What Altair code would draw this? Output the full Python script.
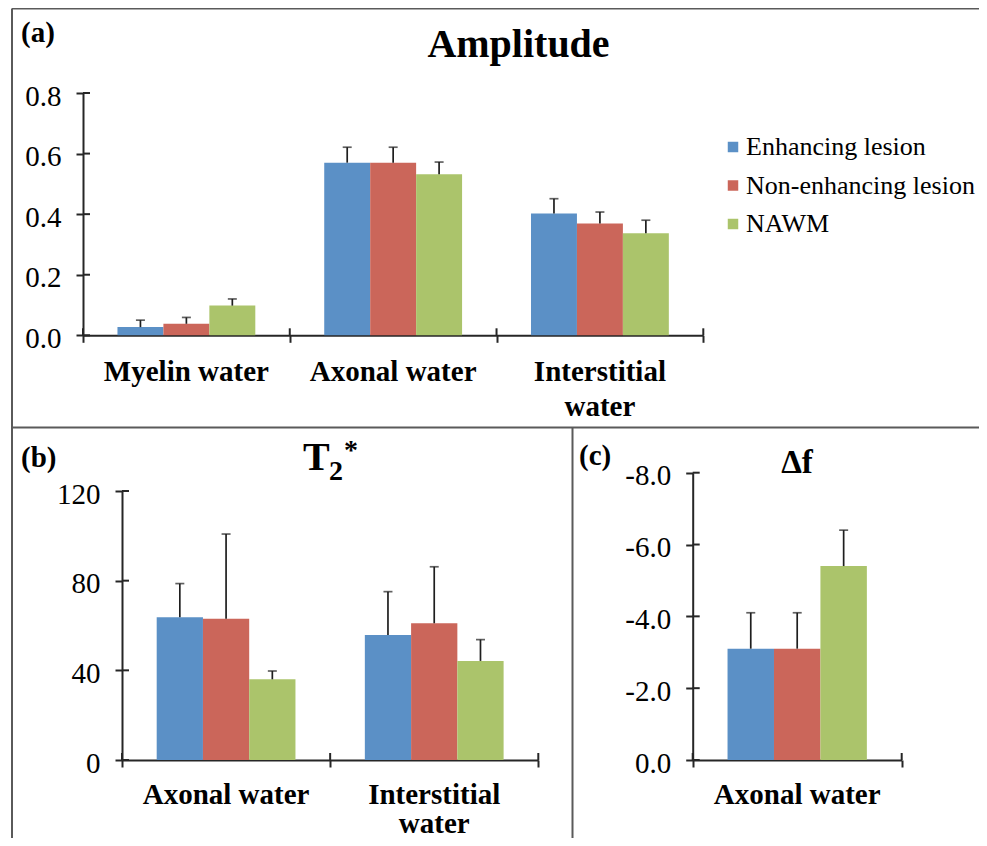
import altair as alt
import pandas as pd

# ---------------- data ----------------
series = ["Enhancing lesion", "Non-enhancing lesion", "NAWM"]
colors = ["#5b90c6", "#cb665a", "#abc46b"]

amp_cats = ["Myelin water", "Axonal water", "Interstitial\nwater"]
amp_enh = [0.027, 0.570, 0.402]
amp_non = [0.038, 0.570, 0.369]
amp_nawm = [0.098, 0.532, 0.337]
amp_enh_err = [0.023, 0.051, 0.049]
amp_non_err = [0.021, 0.051, 0.038]
amp_nawm_err = [0.022, 0.040, 0.043]
amp_ticks = [0.0, 0.2, 0.4, 0.6, 0.8]

t2_cats = ["Axonal water", "Interstitial\nwater"]
t2_enh = [63.7, 55.8]
t2_non = [63.0, 61.0]
t2_nawm = [36.0, 44.2]
t2_enh_err = [15.0, 19.3]
t2_non_err = [37.8, 25.2]
t2_nawm_err = [3.7, 9.5]
t2_ticks = [0, 40, 80, 120]

df_cats = ["Axonal water"]
df_enh = [-3.1]
df_non = [-3.1]
df_nawm = [-5.4]
df_enh_err = [1.0]
df_non_err = [1.0]
df_nawm_err = [1.0]
df_ticks = [0.0, -2.0, -4.0, -6.0, -8.0]

# ---------------- styling ----------------
SERIF = "Liberation Serif, Times New Roman, serif"
INK = "#262626"
BORDER = "#5a5a5a"
W, H = 819, 667


def build(cats, means, errs):
    rows = []
    for j, (s, m, e) in enumerate(zip(series, means, errs)):
        for i, c in enumerate(cats):
            x0 = i + 1 / 6 + j * 2 / 9
            v = m[i]
            tip = v + e[i] if v >= 0 else v - e[i]
            rows.append(dict(series=s, cat=c, x0=x0, x1=x0 + 2 / 9,
                             xc=x0 + 1 / 9, value=v, tip=tip))
    return pd.DataFrame(rows)


color_enc = alt.Color(
    "series:N",
    scale=alt.Scale(domain=series, range=colors),
    legend=alt.Legend(
        title=None, orient="none", legendX=637, legendY=41,
        symbolType="square", symbolSize=110, symbolStrokeWidth=0,
        labelFont=SERIF, labelFontSize=26, labelColor="black",
        labelOffset=0, rowPadding=12.5, padding=0, labelLimit=400,
    ),
)


def panel(df, cats, xrange, yrange, ydomain, yticks, ydec, yoff, xoff,
          axis_x_px, axis_y_px, label_y, line_h):
    n = len(cats)
    xs = alt.Scale(domain=[0, n], range=xrange, nice=False, zero=False)
    ys = alt.Scale(domain=ydomain, range=yrange, nice=False, zero=False)
    xaxis = alt.Axis(orient="bottom", offset=xoff, values=list(range(n + 1)),
                     labels=False, tickSize=7, title=None, grid=False)
    yaxis = alt.Axis(
        orient="left", offset=yoff, values=yticks,
        labelExpr="(datum.value < 0 ? '-' : '') + format(abs(datum.value), '.%df')" % ydec,
        tickSize=7, labelPadding=15, labelOffset=3, title=None, grid=False)
    base = alt.Chart(df)
    bars = base.mark_bar().encode(
        x=alt.X("x0:Q", scale=xs, axis=xaxis),
        x2="x1:Q",
        y=alt.Y("value:Q", scale=ys, axis=yaxis),
        y2=alt.datum(0),
        color=color_enc,
    )
    err = base.mark_rule(color="#1e1e1e", strokeWidth=1.7).encode(
        x=alt.X("xc:Q", scale=xs, axis=xaxis),
        y=alt.Y("value:Q", scale=ys, axis=yaxis),
        y2="tip:Q",
    )
    caps = base.mark_tick(orient="horizontal", size=9, thickness=1.7,
                          color="#1e1e1e").encode(
        x=alt.X("xc:Q", scale=xs, axis=xaxis),
        y=alt.Y("tip:Q", scale=ys, axis=yaxis),
    )
    yt = alt.Chart(pd.DataFrame({"v": yticks})).mark_rule(
        color=INK, strokeWidth=2).encode(
        y=alt.Y("v:Q", scale=ys, axis=yaxis),
        x=alt.value(axis_x_px), x2=alt.value(axis_x_px + 7),
    )
    xt = alt.Chart(pd.DataFrame({"b": list(range(n + 1))})).mark_rule(
        color=INK, strokeWidth=2).encode(
        x=alt.X("b:Q", scale=xs, axis=xaxis),
        y=alt.value(axis_y_px - 7), y2=alt.value(axis_y_px),
    )
    labels = alt.Chart(pd.DataFrame({"cat": cats, "xc": [i + 0.5 for i in range(n)]})).mark_text(
        font=SERIF, fontSize=29, fontWeight="bold", color="black",
        baseline="alphabetic", align="center", lineBreak="\n", lineHeight=line_h,
    ).encode(
        x=alt.X("xc:Q", scale=xs, axis=xaxis),
        y=alt.value(label_y),
        text="cat:N",
    )
    return alt.layer(bars, err, caps, yt, xt, labels)


pa = panel(build(amp_cats, [amp_enh, amp_non, amp_nawm],
                 [amp_enh_err, amp_non_err, amp_nawm_err]),
           amp_cats, [0, 620.3], [242.3, 0], [0, 0.8], amp_ticks, 1,
           0, -424.7, 0, 242.3, 288, 35)
pb = panel(build(t2_cats, [t2_enh, t2_non, t2_nawm],
                 [t2_enh_err, t2_non_err, t2_nawm_err]),
           t2_cats, [39, 455.3], [667, 398], [0, 120], t2_ticks, 0,
           -39, 0, 39, 667, 711, 29)
pc = panel(build(df_cats, [df_enh, df_non, df_nawm],
                 [df_enh_err, df_non_err, df_nawm_err]),
           df_cats, [609.7, 818.7], [667, 379.7], [0, -8], df_ticks, 1,
           -609.7, 0, 609.7, 667, 711, 29)

one = pd.DataFrame({"k": [0]})


def hline(y, x1, x2):
    return alt.Chart(one).mark_rule(color=BORDER, strokeWidth=2).encode(
        y=alt.value(y), x=alt.value(x1), x2=alt.value(x2))


def vline(x, y1, y2):
    return alt.Chart(one).mark_rule(color=BORDER, strokeWidth=2).encode(
        x=alt.value(x), y=alt.value(y1), y2=alt.value(y2))


def label(txt, x, y, size, align="left", weight="bold"):
    return alt.Chart(one).mark_text(
        text=txt, font=SERIF, fontSize=size, fontWeight=weight, color="black",
        align=align, baseline="alphabetic").encode(x=alt.value(x), y=alt.value(y))


decor = [
    vline(-71, -84.5, 760),
    hline(-84.5, -71, 900),
    hline(334.5, -71, 900),
    vline(489.5, 334.5, 760),
    label("(a)", -62, -51.5, 29),
    label("Amplitude", 435.5, -36, 40, align="center"),
    label("(b)", -62, 373.5, 29),
    label("T", 220, 377, 40),
    label("2", 246, 387, 28),
    label("*", 261, 366, 28),
    label("(c)", 496, 372, 29),
    label("\u0394f", 714, 379.7, 33, align="center"),
]

chart = alt.layer(pa, pb, pc, *decor).resolve_scale(
    x="independent", y="independent"
).properties(
    width=W, height=H,
    autosize=alt.AutoSizeParams(type="none"),
    padding={"left": 75, "top": 85, "right": 77, "bottom": 78},
    background="white",
).configure_view(stroke=None).configure_axis(
    labelFont=SERIF, labelFontSize=29, labelColor="black",
    domainColor=INK, tickColor=INK, domainWidth=2, tickWidth=2,
)

chart.save("out.html", embed_options={"renderer": "svg", "actions": False})
